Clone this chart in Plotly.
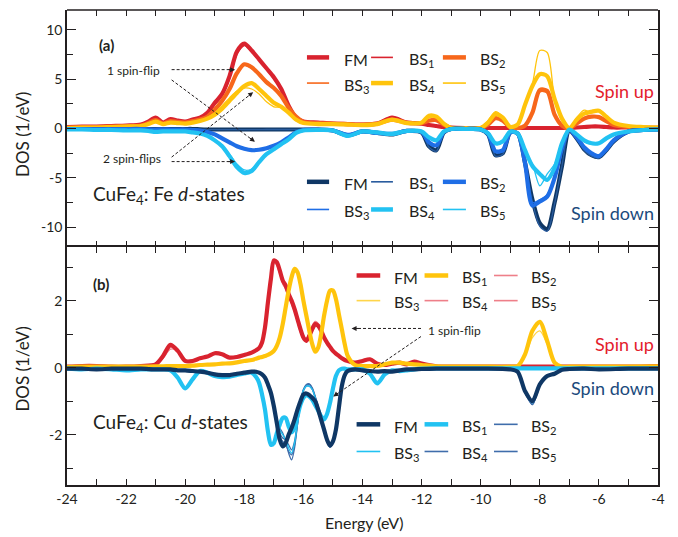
import math
import plotly.graph_objects as go
from plotly.subplots import make_subplots

FONT = "Lato"
INK = "#231f20"

RED = "#d9232f"
ORANGE = "#f7671b"
YELLOW = "#ffc40c"
NAVY = "#0f3765"
NAVY_THIN = "#2a5c9e"
BLUE = "#1f6ee6"
CYAN = "#22c2f2"
PINK = "#ee7f89"
LIGHT_YELLOW = "#ffd54a"
STEEL = "#3f6dab"

# ---------------- energy grids (eV) ----------------
E_FE = [-24.0, -23.5, -23.0, -22.5, -22.0, -21.5, -21.25, -21.0, -20.75, -20.5,
        -20.25, -20.0, -19.75, -19.5, -19.25, -19.0, -18.75, -18.5, -18.25, -18.0,
        -17.75, -17.5, -17.25, -17.0, -16.75, -16.5, -16.25, -16.0, -15.5, -15.0,
        -14.5, -14.0, -13.5, -13.0, -12.5, -12.0, -11.75, -11.5, -11.25, -11.0,
        -10.5, -10.0, -9.75, -9.5, -9.25, -9.0, -8.75, -8.5, -8.25, -8.0,
        -7.75, -7.5, -7.25, -7.0, -6.75, -6.5, -6.25, -6.0, -5.75, -5.5,
        -5.0, -4.5, -4.0]

E_CU = [-24.0, -23.5, -23.0, -22.5, -22.0, -21.5, -21.0, -20.75, -20.5, -20.25,
        -20.0, -19.75, -19.5, -19.25, -19.0, -18.75, -18.5, -18.25, -18.0, -17.75,
        -17.6, -17.5, -17.4, -17.3, -17.2, -17.1, -17.0, -16.9, -16.8, -16.7,
        -16.6, -16.5, -16.4, -16.3, -16.2, -16.1, -16.0, -15.9, -15.8, -15.7,
        -15.6, -15.5, -15.4, -15.3, -15.2, -15.1, -15.0, -14.9, -14.8, -14.7,
        -14.6, -14.5, -14.25, -14.0, -13.75, -13.5, -13.25, -13.0, -12.75, -12.5,
        -12.25, -12.0, -11.5, -11.0, -10.0, -9.0, -8.75, -8.5, -8.25, -8.0,
        -7.75, -7.5, -7.25, -7.0, -6.5, -6.0, -5.0, -4.0]

# ---------------- Fe d-states, spin up ----------------
FE_UP_FM = [0.15, 0.2, 0.2, 0.25, 0.3, 0.4, 0.7, 1.1, 0.6, 0.95,
            0.8, 0.7, 0.9, 1.1, 1.6, 2.6, 3.5, 5.3, 7.8, 8.6,
            7.9, 7.0, 6.1, 5.2, 4.0, 2.3, 1.1, 0.7, 0.6, 0.5,
            0.45, 0.4, 0.5, 1.1, 0.6, 0.5, 0.35, 0.25, 0.15, 0.08,
            0.05, 0.05, 0.05, 0.05, 0.05, 0.05, 0.05, 0.05, 0.05, 0.05,
            0.05, 0.05, 0.05, 0.05, 0.1, 0.15, 0.2, 0.2, 0.15, 0.1,
            0.1, 0.05, 0.05]
FE_UP_BS1 = [0.12, 0.18, 0.2, 0.25, 0.3, 0.35, 0.65, 1.0, 0.55, 0.9,
             0.75, 0.65, 0.85, 1.05, 1.5, 2.4, 3.3, 5.0, 7.5, 8.4,
             7.8, 6.9, 6.0, 5.0, 3.9, 2.2, 1.0, 0.65, 0.55, 0.5,
             0.45, 0.4, 0.55, 1.2, 0.6, 0.5, 0.35, 0.25, 0.15, 0.08,
             0.05, 0.05, 0.05, 0.05, 0.05, 0.05, 0.05, 0.05, 0.05, 0.05,
             0.05, 0.05, 0.05, 0.05, 0.1, 0.15, 0.2, 0.2, 0.15, 0.1,
             0.1, 0.05, 0.05]
FE_UP_BS2 = [0.1, 0.15, 0.15, 0.2, 0.25, 0.3, 0.55, 0.85, 0.5, 0.75,
             0.65, 0.6, 0.75, 0.9, 1.2, 1.9, 2.8, 4.0, 5.6, 6.5,
             6.2, 5.5, 4.7, 4.1, 3.3, 2.1, 1.2, 0.65, 0.55, 0.5,
             0.45, 0.4, 0.5, 0.9, 0.6, 0.55, 0.8, 0.85, 0.4, 0.05,
             0.02, 0.05, 0.4, 1.05, 0.8, 0.1, 0.05, 0.3, 1.6, 3.9,
             3.8, 1.4, 0.3, 0.02, 0.5, 1.0, 1.2, 1.15, 0.75, 0.35,
             0.15, 0.1, 0.08]
FE_UP_BS3 = [0.1, 0.15, 0.15, 0.2, 0.25, 0.3, 0.5, 0.8, 0.5, 0.7,
             0.6, 0.6, 0.7, 0.9, 1.15, 1.8, 2.7, 3.9, 5.5, 6.4,
             6.1, 5.4, 4.6, 4.0, 3.2, 2.0, 1.1, 0.6, 0.55, 0.5,
             0.45, 0.4, 0.5, 0.95, 0.6, 0.55, 0.85, 0.9, 0.4, 0.05,
             0.02, 0.05, 0.45, 1.1, 0.8, 0.1, 0.05, 0.35, 1.7, 3.7,
             3.6, 1.4, 0.3, 0.02, 0.6, 1.1, 1.3, 1.2, 0.8, 0.35,
             0.15, 0.1, 0.08]
FE_UP_BS4 = [0.05, 0.1, 0.1, 0.15, 0.2, 0.25, 0.45, 0.7, 0.45, 0.6,
             0.55, 0.5, 0.6, 0.75, 1.0, 1.4, 2.0, 2.8, 3.6, 4.3,
             4.6, 4.0, 3.3, 2.6, 2.2, 1.6, 0.9, 0.55, 0.45, 0.45,
             0.4, 0.35, 0.45, 0.9, 0.55, 0.6, 1.3, 1.2, 0.5, 0.05,
             0.02, 0.05, 0.6, 1.45, 1.1, 0.15, 0.4, 2.4, 4.3, 5.5,
             5.3, 3.0, 1.0, 0.05, 0.9, 1.5, 1.7, 1.8, 1.2, 0.6,
             0.25, 0.15, 0.1]
FE_UP_BS5 = [0.05, 0.1, 0.1, 0.15, 0.2, 0.25, 0.4, 0.65, 0.45, 0.6,
             0.55, 0.5, 0.6, 0.8, 1.1, 1.6, 2.3, 3.1, 3.8, 4.1,
             4.0, 3.5, 2.7, 2.2, 2.1, 1.5, 0.8, 0.5, 0.45, 0.45,
             0.4, 0.35, 0.45, 0.85, 0.55, 0.55, 1.1, 1.1, 0.45, 0.05,
             0.02, 0.1, 0.8, 1.7, 1.2, 0.15, 0.5, 2.5, 4.5, 7.9,
             7.7, 3.0, 0.8, 0.05, 1.1, 1.85, 1.6, 1.9, 1.3, 0.6,
             0.25, 0.15, 0.1]

# ---------------- Fe d-states, spin down ----------------
FE_DN_FM = [-0.05, -0.05, -0.05, -0.05, -0.05, -0.05, -0.05, -0.05, -0.05, -0.05,
            -0.05, -0.05, -0.05, -0.08, -0.1, -0.1, -0.1, -0.1, -0.1, -0.1,
            -0.1, -0.1, -0.1, -0.1, -0.1, -0.1, -0.1, -0.1, -0.12, -0.2,
            -0.7, -0.3, -0.45, -0.6, -0.25, -0.4, -1.8, -2.2, -0.4, -0.05,
            -0.05, -0.1, -0.6, -2.7, -2.5, -0.4, -0.5, -3.5, -7.2, -9.6,
            -10.2, -7.5, -3.8, -0.2, -1.0, -2.1, -2.7, -2.9, -2.2, -1.3,
            -0.3, -0.15, -0.1]
FE_DN_BS1 = [-0.05, -0.05, -0.05, -0.05, -0.05, -0.05, -0.05, -0.05, -0.05, -0.05,
             -0.05, -0.05, -0.05, -0.08, -0.1, -0.12, -0.12, -0.12, -0.12, -0.12,
             -0.12, -0.12, -0.1, -0.1, -0.1, -0.1, -0.1, -0.1, -0.12, -0.2,
             -0.7, -0.3, -0.45, -0.6, -0.25, -0.4, -1.9, -2.3, -0.4, -0.05,
             -0.05, -0.1, -0.6, -2.8, -2.6, -0.4, -0.5, -3.6, -7.4, -9.9,
             -10.4, -7.6, -3.8, -0.2, -1.0, -2.2, -2.8, -3.0, -2.2, -1.3,
             -0.3, -0.15, -0.1]
FE_DN_BS2 = [-0.05, -0.05, -0.05, -0.05, -0.05, -0.05, -0.08, -0.1, -0.08, -0.1,
             -0.1, -0.1, -0.15, -0.2, -0.35, -0.6, -1.0, -1.4, -1.8, -2.05,
             -2.2, -2.15, -2.0, -1.75, -1.4, -0.9, -0.4, -0.15, -0.12, -0.2,
             -0.65, -0.3, -0.45, -0.55, -0.25, -0.35, -1.4, -1.7, -0.35, -0.05,
             -0.05, -0.1, -0.55, -2.3, -2.2, -0.4, -0.5, -3.5, -7.8, -7.4,
             -6.9, -5.0, -2.0, -0.15, -0.9, -1.9, -2.5, -2.8, -2.1, -1.2,
             -0.3, -0.15, -0.1]
FE_DN_BS3 = [-0.05, -0.05, -0.05, -0.05, -0.05, -0.05, -0.08, -0.1, -0.08, -0.1,
             -0.1, -0.1, -0.15, -0.2, -0.35, -0.6, -0.95, -1.35, -1.75, -2.0,
             -2.15, -2.1, -2.0, -1.7, -1.35, -0.85, -0.4, -0.15, -0.12, -0.2,
             -0.65, -0.3, -0.45, -0.55, -0.25, -0.35, -1.5, -1.8, -0.35, -0.05,
             -0.05, -0.1, -0.55, -2.4, -2.3, -0.4, -0.5, -3.4, -7.5, -7.2,
             -6.7, -4.8, -1.9, -0.15, -0.9, -1.9, -2.5, -2.8, -2.1, -1.2,
             -0.3, -0.15, -0.1]
FE_DN_BS4 = [-0.1, -0.1, -0.15, -0.15, -0.2, -0.2, -0.25, -0.35, -0.3, -0.3,
             -0.3, -0.3, -0.4, -0.5, -0.75, -1.2, -1.8, -2.8, -3.9, -4.5,
             -4.3, -3.4, -2.6, -2.1, -1.6, -1.1, -0.45, -0.2, -0.15, -0.2,
             -0.75, -0.3, -0.4, -0.55, -0.25, -0.3, -0.9, -1.2, -0.3, -0.05,
             -0.05, -0.1, -0.5, -1.5, -1.3, -0.3, -0.5, -2.2, -3.8, -4.6,
             -5.2, -4.0, -1.5, -0.1, -0.6, -1.2, -1.5, -1.5, -1.0, -0.6,
             -0.3, -0.15, -0.1]
FE_DN_BS5 = [-0.1, -0.1, -0.15, -0.15, -0.2, -0.2, -0.25, -0.3, -0.3, -0.3,
             -0.3, -0.3, -0.4, -0.5, -0.7, -1.1, -1.7, -2.6, -3.6, -4.2,
             -4.1, -3.3, -2.5, -2.0, -1.6, -1.05, -0.45, -0.2, -0.15, -0.2,
             -0.75, -0.3, -0.4, -0.55, -0.25, -0.3, -0.85, -1.1, -0.3, -0.05,
             -0.05, -0.1, -0.5, -1.6, -1.4, -0.3, -0.5, -2.4, -3.6, -5.8,
             -4.6, -3.6, -1.3, -0.1, -0.7, -1.3, -1.6, -1.55, -1.0, -0.6,
             -0.3, -0.15, -0.1]

# ---------------- Cu d-states, spin up ----------------
CU_UP_FM = [0.03, 0.05, 0.05, 0.03, 0.03, 0.05, 0.1, 0.35, 0.68, 0.5,
            0.2, 0.2, 0.28, 0.33, 0.43, 0.4, 0.3, 0.32, 0.38, 0.45,
            0.52, 0.58, 0.75, 1.2, 1.95, 2.65, 3.2, 3.15, 2.9, 2.6,
            2.45, 2.2, 2.0, 1.75, 1.45, 1.15, 0.9, 0.8, 0.95, 1.15,
            1.3, 1.25, 1.1, 0.9, 0.75, 0.62, 0.5, 0.42, 0.35, 0.28,
            0.23, 0.2, 0.15, 0.2, 0.25, 0.12, 0.08, 0.12, 0.15, 0.1,
            0.18, 0.12, 0.04, 0.03, 0.03, 0.03, 0.03, 0.03, 0.03, 0.03,
            0.03, 0.03, 0.03, 0.03, 0.03, 0.03, 0.03, 0.05]
CU_UP_BS1 = [0.02, 0.03, 0.03, 0.03, 0.03, 0.03, 0.04, 0.04, 0.05, 0.05,
             0.05, 0.06, 0.08, 0.09, 0.1, 0.12, 0.13, 0.16, 0.2, 0.23,
             0.27, 0.3, 0.32, 0.35, 0.38, 0.43, 0.5, 0.65, 0.9, 1.3,
             1.8, 2.3, 2.7, 2.95, 2.85, 2.5, 2.0, 1.55, 1.1, 0.7,
             0.48, 0.6, 1.0, 1.55, 2.0, 2.3, 2.3, 2.05, 1.6, 1.15,
             0.7, 0.35, 0.08, 0.05, 0.05, 0.05, 0.1, 0.15, 0.15, 0.12,
             0.1, 0.08, 0.04, 0.03, 0.03, 0.03, 0.05, 0.4, 1.1, 1.37,
             0.8, 0.15, 0.03, 0.03, 0.03, 0.03, 0.03, 0.04]
CU_UP_BS2 = [0.03, 0.05, 0.05, 0.03, 0.03, 0.05, 0.1, 0.3, 0.6, 0.5,
             0.2, 0.2, 0.28, 0.33, 0.42, 0.4, 0.3, 0.32, 0.38, 0.45,
             0.52, 0.6, 0.8, 1.3, 2.05, 2.7, 3.15, 3.05, 2.8, 2.5,
             2.35, 2.1, 1.9, 1.65, 1.35, 1.05, 0.85, 0.85, 1.05, 1.25,
             1.35, 1.3, 1.1, 0.9, 0.72, 0.6, 0.5, 0.42, 0.35, 0.28,
             0.23, 0.2, 0.15, 0.22, 0.25, 0.12, 0.08, 0.12, 0.15, 0.1,
             0.18, 0.12, 0.04, 0.03, 0.03, 0.03, 0.03, 0.03, 0.03, 0.03,
             0.03, 0.03, 0.03, 0.03, 0.03, 0.03, 0.03, 0.05]
CU_UP_BS3 = [0.02, 0.03, 0.03, 0.03, 0.03, 0.03, 0.04, 0.04, 0.05, 0.05,
             0.05, 0.06, 0.08, 0.09, 0.1, 0.12, 0.13, 0.16, 0.2, 0.23,
             0.27, 0.3, 0.32, 0.35, 0.38, 0.43, 0.5, 0.62, 0.85, 1.25,
             1.75, 2.25, 2.65, 2.9, 2.85, 2.5, 2.05, 1.6, 1.15, 0.72,
             0.5, 0.62, 1.0, 1.5, 1.95, 2.25, 2.28, 2.05, 1.62, 1.15,
             0.7, 0.35, 0.08, 0.05, 0.05, 0.05, 0.1, 0.15, 0.15, 0.12,
             0.1, 0.08, 0.04, 0.03, 0.03, 0.03, 0.05, 0.35, 0.9, 1.1,
             0.7, 0.15, 0.03, 0.03, 0.03, 0.03, 0.03, 0.04]
CU_UP_BS4 = [0.03, 0.05, 0.05, 0.03, 0.03, 0.05, 0.1, 0.28, 0.55, 0.5,
             0.22, 0.2, 0.28, 0.32, 0.42, 0.4, 0.3, 0.32, 0.38, 0.45,
             0.5, 0.56, 0.72, 1.15, 1.9, 2.6, 3.1, 3.1, 2.85, 2.55,
             2.4, 2.15, 1.95, 1.7, 1.4, 1.1, 0.85, 0.82, 1.0, 1.25,
             1.38, 1.32, 1.15, 0.92, 0.75, 0.62, 0.5, 0.42, 0.35, 0.28,
             0.23, 0.2, 0.15, 0.2, 0.26, 0.12, 0.08, 0.12, 0.15, 0.1,
             0.18, 0.12, 0.04, 0.03, 0.03, 0.03, 0.03, 0.03, 0.03, 0.03,
             0.03, 0.03, 0.03, 0.03, 0.03, 0.03, 0.03, 0.05]
CU_UP_BS5 = [0.03, 0.05, 0.05, 0.03, 0.03, 0.05, 0.1, 0.32, 0.62, 0.52,
             0.2, 0.2, 0.28, 0.33, 0.42, 0.4, 0.3, 0.32, 0.38, 0.45,
             0.52, 0.58, 0.78, 1.25, 2.0, 2.7, 3.15, 3.1, 2.85, 2.55,
             2.4, 2.15, 1.95, 1.7, 1.4, 1.1, 0.88, 0.85, 1.02, 1.2,
             1.3, 1.28, 1.12, 0.9, 0.74, 0.6, 0.5, 0.42, 0.35, 0.28,
             0.23, 0.2, 0.15, 0.21, 0.25, 0.12, 0.08, 0.12, 0.15, 0.1,
             0.18, 0.12, 0.04, 0.03, 0.03, 0.03, 0.03, 0.03, 0.03, 0.03,
             0.03, 0.03, 0.03, 0.03, 0.03, 0.03, 0.03, 0.05]

# ---------------- Cu d-states, spin down ----------------
CU_DN_FM = [-0.03, -0.03, -0.05, -0.03, -0.03, -0.03, -0.05, -0.05, -0.05, -0.08,
            -0.08, -0.1, -0.12, -0.15, -0.2, -0.22, -0.22, -0.18, -0.15, -0.12,
            -0.12, -0.15, -0.2, -0.3, -0.5, -0.75, -1.15, -1.65, -2.15, -2.35,
            -2.25, -2.0, -1.8, -1.55, -1.25, -1.0, -0.8, -0.77, -0.82, -0.9,
            -1.0, -1.25, -1.55, -1.85, -2.15, -2.32, -2.2, -1.85, -1.2, -0.55,
            -0.22, -0.1, -0.05, -0.08, -0.1, -0.12, -0.1, -0.12, -0.08, -0.05,
            -0.05, -0.04, -0.03, -0.03, -0.03, -0.05, -0.12, -0.7, -1.0, -0.5,
            -0.25, -0.18, -0.06, -0.04, -0.03, -0.05, -0.03, -0.03]
CU_DN_BS1 = [-0.03, -0.05, -0.03, -0.05, -0.08, -0.05, -0.05, -0.05, -0.08, -0.3,
             -0.62, -0.35, -0.1, -0.15, -0.25, -0.28, -0.27, -0.22, -0.17, -0.15,
             -0.28, -0.45, -0.8, -1.25, -1.9, -2.3, -2.25, -1.95, -1.7, -1.5,
             -1.5, -1.75, -1.93, -1.8, -1.45, -1.1, -0.9, -0.82, -0.86, -0.96,
             -1.12, -1.28, -1.45, -1.54, -1.38, -1.05, -0.62, -0.25, -0.08, -0.03,
             -0.03, -0.05, -0.05, -0.05, -0.18, -0.47, -0.2, -0.08, -0.1, -0.08,
             -0.05, -0.03, -0.02, -0.02, -0.02, -0.02, -0.02, -0.02, -0.02, -0.02,
             -0.02, -0.02, -0.02, -0.02, -0.02, -0.02, -0.02, -0.02]
CU_DN_BS2 = [-0.03, -0.03, -0.05, -0.03, -0.03, -0.03, -0.05, -0.05, -0.05, -0.08,
             -0.08, -0.1, -0.12, -0.15, -0.2, -0.22, -0.22, -0.18, -0.15, -0.12,
             -0.12, -0.15, -0.2, -0.3, -0.5, -0.75, -1.1, -1.5, -1.8, -1.95,
             -2.2, -2.55, -2.75, -2.4, -1.7, -1.05, -0.65, -0.5, -0.48, -0.6,
             -0.85, -1.15, -1.5, -1.85, -2.2, -2.38, -2.25, -1.85, -1.15, -0.5,
             -0.2, -0.1, -0.05, -0.08, -0.1, -0.12, -0.1, -0.12, -0.08, -0.05,
             -0.05, -0.04, -0.03, -0.03, -0.03, -0.05, -0.12, -0.75, -1.1, -0.55,
             -0.25, -0.18, -0.06, -0.04, -0.03, -0.05, -0.03, -0.03]
CU_DN_BS3 = [-0.03, -0.03, -0.05, -0.03, -0.03, -0.03, -0.05, -0.05, -0.05, -0.08,
             -0.08, -0.1, -0.12, -0.15, -0.2, -0.22, -0.22, -0.18, -0.15, -0.12,
             -0.12, -0.15, -0.2, -0.3, -0.5, -0.78, -1.2, -1.6, -1.85, -2.0,
             -2.15, -2.4, -2.55, -2.25, -1.65, -1.05, -0.68, -0.55, -0.55, -0.65,
             -0.9, -1.2, -1.55, -1.9, -2.2, -2.35, -2.2, -1.8, -1.1, -0.48,
             -0.2, -0.1, -0.05, -0.08, -0.1, -0.12, -0.1, -0.12, -0.08, -0.05,
             -0.05, -0.04, -0.03, -0.03, -0.03, -0.05, -0.12, -0.72, -1.05, -0.52,
             -0.25, -0.18, -0.06, -0.04, -0.03, -0.05, -0.03, -0.03]
CU_DN_BS4 = [-0.03, -0.03, -0.05, -0.03, -0.03, -0.03, -0.05, -0.05, -0.05, -0.08,
             -0.08, -0.1, -0.12, -0.15, -0.2, -0.22, -0.22, -0.18, -0.15, -0.12,
             -0.12, -0.15, -0.2, -0.3, -0.52, -0.8, -1.2, -1.7, -2.05, -2.2,
             -2.3, -2.5, -2.6, -2.3, -1.7, -1.05, -0.7, -0.55, -0.55, -0.65,
             -0.9, -1.2, -1.55, -1.88, -2.2, -2.35, -2.2, -1.82, -1.15, -0.5,
             -0.2, -0.1, -0.05, -0.08, -0.1, -0.12, -0.1, -0.12, -0.08, -0.05,
             -0.05, -0.04, -0.03, -0.03, -0.03, -0.05, -0.12, -0.72, -1.1, -0.55,
             -0.25, -0.18, -0.06, -0.04, -0.03, -0.05, -0.03, -0.03]
CU_DN_BS5 = [-0.03, -0.03, -0.05, -0.03, -0.03, -0.03, -0.05, -0.05, -0.05, -0.08,
             -0.08, -0.1, -0.12, -0.15, -0.2, -0.22, -0.22, -0.18, -0.15, -0.12,
             -0.12, -0.15, -0.2, -0.3, -0.5, -0.75, -1.15, -1.6, -1.95, -2.1,
             -2.15, -2.3, -2.45, -2.2, -1.6, -1.0, -0.66, -0.52, -0.5, -0.62,
             -0.88, -1.18, -1.52, -1.86, -2.18, -2.36, -2.22, -1.84, -1.12, -0.5,
             -0.2, -0.1, -0.05, -0.08, -0.1, -0.12, -0.1, -0.12, -0.08, -0.05,
             -0.05, -0.04, -0.03, -0.03, -0.03, -0.05, -0.12, -0.7, -1.05, -0.52,
             -0.25, -0.18, -0.06, -0.04, -0.03, -0.05, -0.03, -0.03]

X_TICKS = list(range(-24, -3))
X_LABELS = [str(v) if v % 2 == 0 else "" for v in X_TICKS]

THICK, THIN = 4.2, 1.3
PX_PER_EV = 591 / 20.0
PX_PER_UNIT = {"y": 237 / 24.0, "y2": 238 / 7.1}

fig = make_subplots(rows=2, cols=1, shared_xaxes=True, vertical_spacing=0)


def curve(E, dos, color, width, row):
    fig.add_trace(go.Scatter(x=E, y=dos, mode="lines",
                             line=dict(color=color, width=width, shape="spline", smoothing=0.8),
                             hoverinfo="skip", showlegend=False), row=row, col=1)


# panel (a): Fe d-states
for dos, color, width in [(FE_UP_FM, RED, THICK), (FE_UP_BS1, RED, THIN),
                          (FE_UP_BS2, ORANGE, THICK), (FE_UP_BS3, ORANGE, THIN),
                          (FE_UP_BS4, YELLOW, THICK), (FE_UP_BS5, YELLOW, THIN),
                          (FE_DN_FM, NAVY, THICK), (FE_DN_BS1, NAVY_THIN, THIN),
                          (FE_DN_BS2, BLUE, THICK), (FE_DN_BS3, BLUE, THIN),
                          (FE_DN_BS4, CYAN, THICK), (FE_DN_BS5, CYAN, THIN)]:
    curve(E_FE, dos, color, width, 1)

# panel (b): Cu d-states
for dos, color, width in [(CU_UP_BS2, PINK, THIN), (CU_UP_BS4, PINK, THIN),
                          (CU_UP_BS5, PINK, THIN), (CU_UP_FM, RED, THICK),
                          (CU_UP_BS3, LIGHT_YELLOW, THIN), (CU_UP_BS1, YELLOW, THICK),
                          (CU_DN_BS2, STEEL, THIN), (CU_DN_BS4, STEEL, THIN),
                          (CU_DN_BS5, STEEL, THIN), (CU_DN_BS3, CYAN, THIN),
                          (CU_DN_BS1, CYAN, THICK), (CU_DN_FM, NAVY, THICK)]:
    curve(E_CU, dos, color, width, 2)


def legend_block(entries, line_x, label_x, rows_y, xref, yref):
    for i, (label, color, width) in enumerate(entries):
        r, c = divmod(i, 3)
        fig.add_shape(type="line", xref=xref, yref=yref,
                      x0=line_x[c][0], x1=line_x[c][1], y0=rows_y[r], y1=rows_y[r],
                      line=dict(color=color, width=width + 0.3))
        fig.add_annotation(xref=xref, yref=yref, x=label_x[c], y=rows_y[r], text=label,
                           showarrow=False, xanchor="left", yanchor="middle", yshift=-2,
                           font=dict(size=16, color=INK, family=FONT))


def bs(n):
    return "BS<sub>%d</sub>" % n


FE_COLS = [(-15.88, -15.13), (-13.71, -12.97), (-11.28, -10.5)]
FE_LABELS = [-14.69, -12.49, -10.09]
legend_block([("FM", RED, THICK), (bs(1), RED, THIN), (bs(2), ORANGE, THICK),
              (bs(3), ORANGE, THIN), (bs(4), YELLOW, THICK), (bs(5), YELLOW, THIN)],
             FE_COLS, FE_LABELS, [7.2, 4.6], "x", "y")
legend_block([("FM", NAVY, THICK), (bs(1), NAVY_THIN, THIN), (bs(2), BLUE, THICK),
              (bs(3), BLUE, THIN), (bs(4), CYAN, THICK), (bs(5), CYAN, THIN)],
             FE_COLS, FE_LABELS, [-5.4, -8.2], "x", "y")

CU_COLS = [(-14.2, -13.4), (-11.9, -11.1), (-9.55, -8.75)]
CU_LABELS = [-13.0, -10.7, -8.35]
legend_block([("FM", RED, THICK), (bs(1), YELLOW, THICK), (bs(2), PINK, THIN),
              (bs(3), LIGHT_YELLOW, THIN), (bs(4), PINK, THIN), (bs(5), PINK, THIN)],
             CU_COLS, CU_LABELS, [2.75, 2.0], "x2", "y2")
legend_block([("FM", NAVY, THICK), (bs(1), CYAN, THICK), (bs(2), STEEL, THIN),
              (bs(3), CYAN, THIN), (bs(4), STEEL, THIN), (bs(5), STEEL, THIN)],
             CU_COLS, CU_LABELS, [-1.69, -2.5], "x2", "y2")


def dashed_arrow(x0, y0, x1, y1, xref, yref):
    sy = PX_PER_UNIT[yref]
    dx, dy = (x1 - x0) * PX_PER_EV, (y1 - y0) * sy
    L = math.hypot(dx, dy)
    ux, uy = dx / L, dy / L
    fig.add_shape(type="line", xref=xref, yref=yref, x0=x0, y0=y0,
                  x1=x1 - ux * 4 / PX_PER_EV, y1=y1 - uy * 4 / sy,
                  line=dict(color=INK, width=1, dash="3px,2px"))
    fig.add_annotation(xref=xref, yref=yref, x=x1, y=y1, ax=-ux * 8, ay=uy * 8,
                       text="", showarrow=True, arrowhead=2, arrowsize=1,
                       arrowwidth=1, arrowcolor=INK, standoff=0)


def note(x, y, text, xref, yref, size, color=INK, anchor="center"):
    fig.add_annotation(xref=xref, yref=yref, x=x, y=y, text=text, showarrow=False,
                       xanchor=anchor, yanchor="middle",
                       font=dict(size=size, color=color, family=FONT))


# panel (a) notes
note(-22.65, 8.5, "<b>(a)</b>", "x", "y", 15)
note(-21.75, 5.9, "1 spin-flip", "x", "y", 12)
note(-21.8, -3.0, "2 spin-flips", "x", "y", 12)
dashed_arrow(-20.46, 5.96, -18.31, 5.96, "x", "y")
dashed_arrow(-20.46, 4.92, -17.64, -1.35, "x", "y")
dashed_arrow(-20.46, -3.35, -18.31, -3.35, "x", "y")
dashed_arrow(-20.46, -2.9, -17.7, 3.68, "x", "y")
note(-23.2, -6.7, "CuFe<sub>4</sub>: Fe <i>d</i>-states", "x", "y", 19, anchor="left")
note(-4.08, 3.75, "Spin up", "x", "y", 18, color="#e3202c", anchor="right")
note(-4.08, -8.6, "Spin down", "x", "y", 18, color="#1b4a7c", anchor="right")

# panel (b) notes
note(-22.85, 2.5, "<b>(b)</b>", "x2", "y2", 15)
note(-10.9, 1.1, "1 spin-flip", "x2", "y2", 12)
dashed_arrow(-12.02, 1.17, -14.37, 1.17, "x2", "y2")
dashed_arrow(-12.02, 0.93, -14.99, -0.86, "x2", "y2")
note(-23.2, -1.65, "CuFe<sub>4</sub>: Cu <i>d</i>-states", "x2", "y2", 19, anchor="left")
note(-4.08, 0.71, "Spin up", "x2", "y2", 18, color="#e3202c", anchor="right")
note(-4.08, -0.6, "Spin down", "x2", "y2", 18, color="#1b4a7c", anchor="right")

# axis titles
for yc in (0.739, 0.245):
    fig.add_annotation(xref="paper", yref="paper", x=-0.0745, y=yc, text="DOS (1/eV)",
                       textangle=-90, showarrow=False, xanchor="center", yanchor="middle",
                       font=dict(size=17, color=INK, family=FONT))
fig.add_annotation(xref="paper", yref="paper", x=0.504, y=-0.078, text="Energy (eV)",
                   showarrow=False, xanchor="center", yanchor="middle",
                   font=dict(size=16, color=INK, family=FONT))

# top border of panel (a); the divider comes from panel (b)'s mirrored axis line
fig.add_shape(type="line", xref="paper", yref="paper", x0=0, x1=1, y0=1, y1=1,
              line=dict(color=INK, width=1.6))

axis_common = dict(linecolor=INK, linewidth=1.6, mirror="ticks",
                   ticks="inside", tickcolor=INK, tickwidth=1.2, showgrid=False,
                   zeroline=False, tickfont=dict(size=14, color=INK, family=FONT))
SPLIT = 238 / 475

fig.update_xaxes(range=[-24, -4], tickvals=X_TICKS, ticktext=X_LABELS, ticklen=6,
                 **axis_common)
fig.update_xaxes(showticklabels=False, showline=False, row=1, col=1)
fig.update_xaxes(showticklabels=True, showline=True, row=2, col=1)
fig.update_yaxes(domain=[SPLIT, 1], range=[-12, 12], tickvals=[-10, -5, 0, 5, 10],
                 ticktext=["-10", "-5", "0", "5", "10"], ticklen=9, showline=True,
                 minor=dict(tickvals=[-7.5, -2.5, 2.5, 7.5], ticks="inside", ticklen=6,
                            tickwidth=1.2, tickcolor=INK),
                 row=1, col=1, **axis_common)
fig.update_yaxes(domain=[0, SPLIT], range=[-3.5, 3.6], tickvals=[-2, 0, 2],
                 ticktext=["-2", "0", "2"], ticklen=9, showline=True,
                 minor=dict(tickvals=[-3, -1, 1, 3], ticks="inside", ticklen=6,
                            tickwidth=1.2, tickcolor=INK),
                 row=2, col=1, **axis_common)

fig.update_layout(width=678, height=537, margin=dict(l=67, r=20, t=10, b=52),
                  plot_bgcolor="white", paper_bgcolor="white", showlegend=False,
                  font=dict(family=FONT, color=INK))

fig.write_html("out.html")
